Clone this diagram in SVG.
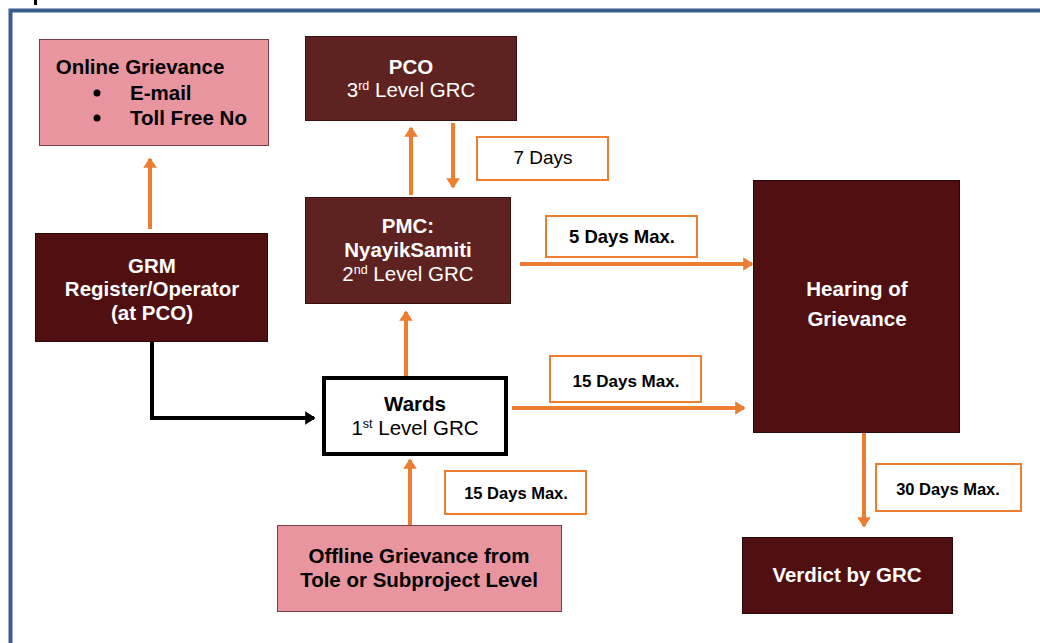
<svg xmlns="http://www.w3.org/2000/svg" width="1040" height="643" viewBox="0 0 1040 643">
<defs>
<style>
.t{font-family:"Liberation Sans",Arial,sans-serif;text-anchor:middle}
.b{font-weight:bold}
.w{fill:#fff}
.k{fill:#000}
.pink{fill:#E8959F;stroke:#7a4048;stroke-width:1}
.dark{fill:#501012;stroke:#2a0808;stroke-width:1}
.mid{fill:#5E2220;stroke:#3a1010;stroke-width:1}
.lbl{fill:#fff;stroke:#ED7D31;stroke-width:2}
.oa{stroke:#ED7D31;stroke-width:4;fill:none}
</style>
<marker id="ao" markerWidth="4" markerHeight="4" refX="2.2" refY="2" orient="auto" markerUnits="strokeWidth"><path d="M0,0.3 L2.6,2 L0,3.7 Z" fill="#ED7D31"/></marker>
<marker id="ak" markerWidth="4" markerHeight="4" refX="2.2" refY="2" orient="auto" markerUnits="strokeWidth"><path d="M0,0.3 L2.6,2 L0,3.7 Z" fill="#000"/></marker>
</defs>
<rect width="1040" height="643" fill="#fff"/>
<rect x="34" y="0" width="3" height="5" fill="#000"/>
<path d="M10.5,643 V10.5 H1040" fill="none" stroke="#3A5F8F" stroke-width="4"/>

<g id="connectors">
<line class="oa" x1="150" y1="229" x2="150" y2="159" marker-end="url(#ao)"/>
<line class="oa" x1="411" y1="195" x2="411" y2="128" marker-end="url(#ao)"/>
<line class="oa" x1="453" y1="123" x2="453" y2="187" marker-end="url(#ao)"/>
<line class="oa" x1="520" y1="264" x2="752" y2="264" marker-end="url(#ao)"/>
<line class="oa" x1="406" y1="376" x2="406" y2="312" marker-end="url(#ao)"/>
<line class="oa" x1="512" y1="408" x2="744" y2="408" marker-end="url(#ao)"/>
<line class="oa" x1="410" y1="525" x2="410" y2="460" marker-end="url(#ao)"/>
<line class="oa" x1="864" y1="433" x2="864" y2="526" marker-end="url(#ao)"/>
<path d="M152,342 V418 H314" fill="none" stroke="#000" stroke-width="4" marker-end="url(#ak)"/>
</g>

<g id="online"><rect class="pink" x="39.5" y="39.5" width="229" height="106"/>
<text class="t b k" x="140" y="74" font-size="20.5">Online Grievance</text>
<circle cx="97" cy="93" r="3.5" fill="#000"/><circle cx="97" cy="118" r="3.5" fill="#000"/>
<text class="t b k" x="130" y="100" font-size="20.5" style="text-anchor:start">E-mail</text>
<text class="t b k" x="130" y="125" font-size="20.5" style="text-anchor:start">Toll Free No</text></g>

<g id="pco"><rect class="mid" x="305.5" y="36.5" width="211" height="84"/>
<text class="t b w" x="411" y="74" font-size="20.5">PCO</text>
<text class="t w" x="411" y="97" font-size="20.5">3<tspan font-size="12.5" dy="-7">rd</tspan><tspan dy="7"> Level GRC</tspan></text></g>

<g id="pmc"><rect class="mid" x="305.5" y="197.5" width="205" height="106"/>
<text class="t b w" x="408" y="233" font-size="20.5">PMC:</text>
<text class="t b w" x="408" y="257" font-size="20.5">NyayikSamiti</text>
<text class="t w" x="408" y="281" font-size="20.5">2<tspan font-size="12.5" dy="-7">nd</tspan><tspan dy="7"> Level GRC</tspan></text></g>

<g id="grm"><rect class="dark" x="35.5" y="233.5" width="232" height="108"/>
<text class="t b w" x="152" y="273" font-size="20.5">GRM</text>
<text class="t b w" x="152" y="296" font-size="20.5">Register/Operator</text>
<text class="t b w" x="152" y="320" font-size="20.5">(at PCO)</text></g>

<g id="wards"><rect x="324" y="378" width="182" height="76" fill="#fff" stroke="#000" stroke-width="4"/>
<text class="t b k" x="415" y="411" font-size="20.5">Wards</text>
<text class="t k" x="415" y="435" font-size="20.5">1<tspan font-size="12.5" dy="-7">st</tspan><tspan dy="7"> Level GRC</tspan></text></g>

<g id="hearing"><rect class="dark" x="753.5" y="180.5" width="206" height="252"/>
<text class="t b w" x="857" y="296" font-size="20.5">Hearing of</text>
<text class="t b w" x="857" y="326" font-size="20.5">Grievance</text></g>

<g id="offline"><rect class="pink" x="277.5" y="525.5" width="284" height="86"/>
<text class="t b k" x="419" y="563" font-size="20.5">Offline Grievance from</text>
<text class="t b k" x="419" y="587" font-size="20.5">Tole or Subproject Level</text></g>

<g id="verdict"><rect class="dark" x="742.5" y="537.5" width="210" height="76"/>
<text class="t b w" x="847" y="582" font-size="20.5">Verdict by GRC</text></g>

<g id="lbl7"><rect class="lbl" x="477" y="137" width="131" height="43"/>
<text class="t k" x="543" y="164" font-size="19">7 Days</text></g>
<g id="lbl5"><rect class="lbl" x="546" y="216" width="151" height="41"/>
<text class="t b k" x="622" y="243" font-size="18.5">5 Days Max.</text></g>
<g id="lbl15a"><rect class="lbl" x="550" y="356" width="151" height="46"/>
<text class="t b k" x="626" y="387" font-size="17">15 Days Max.</text></g>
<g id="lbl15b"><rect class="lbl" x="445" y="471" width="141" height="43"/>
<text class="t b k" x="516" y="499" font-size="16.5">15 Days Max.</text></g>
<g id="lbl30"><rect class="lbl" x="876" y="464" width="145" height="47"/>
<text class="t b k" x="948" y="495" font-size="16.5">30 Days Max.</text></g>
</svg>
